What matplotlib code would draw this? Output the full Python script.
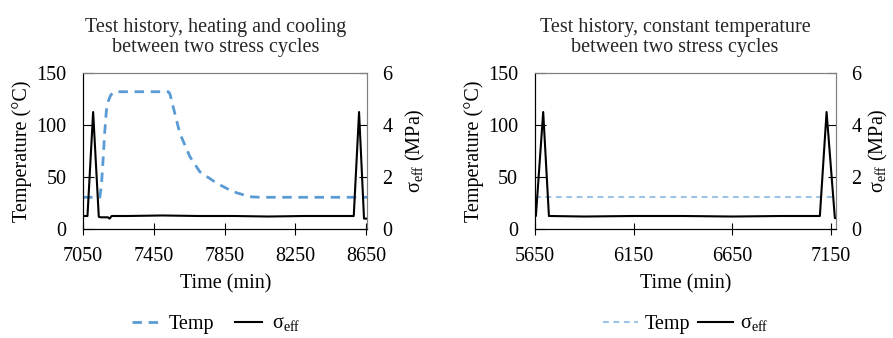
import matplotlib
matplotlib.use("Agg")
import matplotlib.pyplot as plt
from matplotlib.lines import Line2D

plt.rcParams['font.family'] = ['Liberation Serif', 'DejaVu Serif']
plt.rcParams['mathtext.fontset'] = 'custom'
plt.rcParams['mathtext.rm'] = 'Liberation Serif'

# --- left panel: heating and cooling between stress cycles
heat_temp_t = [7050, 7145, 7155, 7163, 7172, 7182, 7195, 7207, 7230, 7532, 7541, 7560,
               7597, 7654, 7710, 7806, 7896, 7992, 8050, 8655]
heat_temp = [30.5, 30.5, 45, 66, 92, 114, 124, 129, 132, 132, 130, 117,
             92, 69.5, 55, 44, 36, 31, 30.5, 30.5]
heat_sig_t = [7050, 7075, 7107, 7139, 7150, 7190, 7200, 7212, 7300, 7500, 7700, 7900,
              8100, 8300, 8500, 8580, 8610, 8638, 8655]
heat_sig = [0.5, 0.5, 4.5, 0.47, 0.45, 0.45, 0.4, 0.5, 0.5, 0.52, 0.5, 0.5,
            0.48, 0.5, 0.5, 0.5, 4.5, 0.4, 0.4]

# --- right panel: constant temperature
const_temp_t = [5650, 7175]
const_temp = [30.5, 30.5]
const_sig_t = [5650, 5655, 5692, 5721, 5900, 6150, 6400, 6650, 6900, 7094, 7128, 7170, 7175]
const_sig = [0.5, 0.5, 4.5, 0.5, 0.48, 0.5, 0.5, 0.48, 0.5, 0.5, 4.5, 0.42, 0.42]

sig_label = "σ$_{\\mathrm{eff}}$"

panels = [
    dict(title="Test history, heating and cooling\nbetween two stress cycles",
         tt=heat_temp_t, tv=heat_temp, st=heat_sig_t, sv=heat_sig,
         xlim=(7050, 8655), xticks=[7050, 7450, 7850, 8250, 8650],
         color="#5B9BD5", lw=2.0, dashes=(3.4, 2.4),
         rect=[0.093, 0.3225, 0.318, 0.4615], title_x=0.241, xlab_x=0.253,
         rpad=8, leg=dict(x=0.242, hl=1.35, htp=0.5, cs=1.0)),
    dict(title="Test history, constant temperature\nbetween two stress cycles",
         tt=const_temp_t, tv=const_temp, st=const_sig_t, sv=const_sig,
         xlim=(5650, 7175), xticks=[5650, 6150, 6650, 7150],
         color="#9DC3E6", lw=1.5, dashes=(2.8, 2.2),
         rect=[0.599, 0.3225, 0.337, 0.4615], title_x=0.756, xlab_x=0.768,
         rpad=4, leg=dict(x=0.768, hl=1.7, htp=0.35, cs=0.4)),
]

fig = plt.figure(figsize=(8.93, 3.38), dpi=100)

for p in panels:
    ax = fig.add_axes(p["rect"])
    ax2 = ax.twinx()
    ax.plot(p["tt"], p["tv"], color=p["color"], lw=p["lw"], dashes=p["dashes"], zorder=2)
    ax2.plot(p["st"], p["sv"], color="black", lw=1.5, zorder=3)
    ax.set_xlim(*p["xlim"])
    ax.set_ylim(0, 150)
    ax2.set_ylim(0, 6)
    ax.set_xticks(p["xticks"])
    ax.set_yticks([0, 50, 100, 150])
    ax2.set_yticks([0, 2, 4, 6])
    ax.tick_params(axis="x", direction="inout", length=8, labelsize=14.5, pad=9)
    ax.tick_params(axis="y", direction="in", length=8, labelsize=14.5, pad=12)
    ax2.tick_params(axis="y", direction="in", length=6, labelsize=14.5, pad=11)
    for a in (ax, ax2):
        a.spines["top"].set_color("#808080")
        a.spines["right"].set_color("#808080")
        a.spines["left"].set_color("black")
        a.spines["bottom"].set_color("black")
    ax.set_ylabel("Temperature (°C)", fontsize=14.5, labelpad=3)
    ax2.set_ylabel(sig_label + " (MPa)", fontsize=14.5, rotation=90, labelpad=p["rpad"])
    ax.set_xlabel("Time (min)", fontsize=14.5)
    ax.xaxis.set_label_coords((p["xlab_x"] - p["rect"][0]) / p["rect"][2], -0.29)
    fig.text(p["title_x"], 0.948, p["title"], ha="center", va="top", fontsize=14.5,
             linespacing=1.1, color="#262626")

    lg = p["leg"]
    handles = [Line2D([], [], color=p["color"], lw=p["lw"], dashes=p["dashes"]),
               Line2D([], [], color="black", lw=1.5)]
    fig.legend(handles, ["Temp", sig_label], loc="center",
               bbox_to_anchor=(lg["x"], 0.04), ncol=2, frameon=False,
               fontsize=14.5, handlelength=lg["hl"], handletextpad=lg["htp"],
               columnspacing=lg["cs"])

fig.savefig("out.png", dpi=100)
